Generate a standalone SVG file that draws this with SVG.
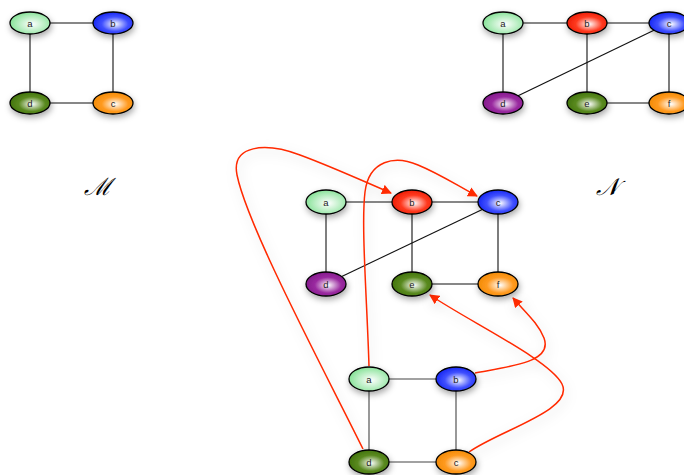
<svg xmlns="http://www.w3.org/2000/svg" width="684" height="475" viewBox="0 0 684 475">
<style>
.n ellipse{stroke:#000;stroke-width:1.3;filter:url(#sh)}
.n text{font-family:"Liberation Sans",Arial,sans-serif;font-size:9.5px;fill:#222;text-anchor:middle;dominant-baseline:central}
.e line{stroke:#111;stroke-width:1.1}
.r path{fill:none;stroke:#ff2a00;stroke-width:1.5;marker-end:url(#ah)}
.lbl{font-family:"DejaVu Serif",serif;font-style:italic;font-size:24px;text-anchor:middle;fill:#000}
</style>
<defs>
<filter id="sh" x="-60%" y="-60%" width="220%" height="220%"><feDropShadow dx="1" dy="3" stdDeviation="3" flood-color="#000" flood-opacity="0.35"/></filter>
<filter id="rs" x="-20%" y="-20%" width="140%" height="140%"><feDropShadow dx="2" dy="4" stdDeviation="6" flood-color="#000" flood-opacity="0.18"/></filter>
<radialGradient id="gA" cx="0.55" cy="0.55" r="0.6"><stop offset="0" stop-color="#ffffff"/><stop offset="1" stop-color="#7ee090"/></radialGradient>
<radialGradient id="gB" cx="0.55" cy="0.55" r="0.6"><stop offset="0" stop-color="#ffffff"/><stop offset="0.55" stop-color="#4050ff"/><stop offset="1" stop-color="#1020f0"/></radialGradient>
<radialGradient id="gR" cx="0.55" cy="0.55" r="0.6"><stop offset="0" stop-color="#ffffff"/><stop offset="0.55" stop-color="#ff3a20"/><stop offset="1" stop-color="#e81800"/></radialGradient>
<radialGradient id="gG" cx="0.55" cy="0.55" r="0.6"><stop offset="0" stop-color="#ffffff"/><stop offset="0.55" stop-color="#5a8a20"/><stop offset="1" stop-color="#3e7008"/></radialGradient>
<radialGradient id="gO" cx="0.55" cy="0.55" r="0.6"><stop offset="0" stop-color="#ffffff"/><stop offset="0.55" stop-color="#ff9a20"/><stop offset="1" stop-color="#f08800"/></radialGradient>
<radialGradient id="gP" cx="0.55" cy="0.55" r="0.6"><stop offset="0" stop-color="#ffffff"/><stop offset="0.55" stop-color="#9a2aa0"/><stop offset="1" stop-color="#801888"/></radialGradient>
<marker id="ah" viewBox="0 0 10 10" refX="9" refY="5" markerWidth="10" markerHeight="10" markerUnits="userSpaceOnUse" orient="auto"><path d="M0,0 L10,5 L0,10 Z" fill="#ff2a00"/></marker>
</defs>
<rect width="684" height="475" fill="#fff"/>

<g id="connectors">
<g class="e">
<line x1="30" y1="23" x2="113" y2="23"/><line x1="113" y1="23" x2="113" y2="103"/><line x1="113" y1="103" x2="30" y2="103"/><line x1="30" y1="103" x2="30" y2="23"/>
<line x1="503" y1="23" x2="587" y2="23"/><line x1="587" y1="23" x2="669" y2="23"/><line x1="503" y1="23" x2="503" y2="103"/><line x1="587" y1="23" x2="587" y2="103"/><line x1="669" y1="23" x2="669" y2="103"/><line x1="587" y1="103" x2="669" y2="103"/><line x1="669" y1="23" x2="503" y2="103"/>
<line x1="326" y1="202" x2="412" y2="202"/><line x1="412" y1="202" x2="498" y2="202"/><line x1="326" y1="202" x2="326" y2="284" style="stroke:#555;stroke-width:1.5"/><line x1="412" y1="202" x2="412" y2="284"/><line x1="498" y1="202" x2="498" y2="284"/><line x1="412" y1="284" x2="498" y2="284"/><line x1="498" y1="202" x2="326" y2="284"/>
<line x1="369" y1="379" x2="456" y2="379" style="stroke:#444"/><line x1="456" y1="379" x2="456" y2="462" style="stroke:#444"/><line x1="456" y1="462" x2="369" y2="462" style="stroke:#444"/><line x1="369" y1="462" x2="369" y2="379" style="stroke:#444"/>
</g>
<g class="r" filter="url(#rs)">
<path d="M363,449 C325,372 248,228 237,175 C231,145 265,142 300,155 C335,168 365,182 391,193"/>
<path d="M369,366 C367,300 361,225 365,192 C369,160 395,155 418,165 C440,174 458,186 477,196"/>
<path d="M475,373 C512,366 553,362 544,338 C538,323 526,313 513,298"/>
<path d="M469,452 C500,430 575,410 562,384 C550,360 470,322 430,295"/>
</g>
</g>

<g id="M-a" class="n"><ellipse cx="30" cy="23" rx="20" ry="11" fill="url(#gA)"/><text x="30" y="23">a</text></g>
<g id="M-b" class="n"><ellipse cx="113" cy="23" rx="20" ry="11" fill="url(#gB)"/><text x="113" y="23">b</text></g>
<g id="M-c" class="n"><ellipse cx="113" cy="103" rx="20" ry="11" fill="url(#gO)"/><text x="113" y="103">c</text></g>
<g id="M-d" class="n"><ellipse cx="30" cy="103" rx="20" ry="11" fill="url(#gG)"/><text x="30" y="103">d</text></g>

<g id="N-a" class="n"><ellipse cx="503" cy="23" rx="20" ry="11" fill="url(#gA)"/><text x="503" y="23">a</text></g>
<g id="N-b" class="n"><ellipse cx="587" cy="23" rx="20" ry="11" fill="url(#gR)"/><text x="587" y="23">b</text></g>
<g id="N-c" class="n"><ellipse cx="669" cy="23" rx="20" ry="11" fill="url(#gB)"/><text x="669" y="23">c</text></g>
<g id="N-d" class="n"><ellipse cx="503" cy="103" rx="20" ry="11" fill="url(#gP)"/><text x="503" y="103">d</text></g>
<g id="N-e" class="n"><ellipse cx="587" cy="103" rx="20" ry="11" fill="url(#gG)"/><text x="587" y="103">e</text></g>
<g id="N-f" class="n"><ellipse cx="669" cy="103" rx="20" ry="11" fill="url(#gO)"/><text x="669" y="103">f</text></g>

<g id="N2-a" class="n"><ellipse cx="326" cy="202" rx="20" ry="12" fill="url(#gA)"/><text x="326" y="202">a</text></g>
<g id="N2-b" class="n"><ellipse cx="412" cy="202" rx="20" ry="12" fill="url(#gR)"/><text x="412" y="202">b</text></g>
<g id="N2-c" class="n"><ellipse cx="498" cy="202" rx="20" ry="12" fill="url(#gB)"/><text x="498" y="202">c</text></g>
<g id="N2-d" class="n"><ellipse cx="326" cy="284" rx="20" ry="12" fill="url(#gP)"/><text x="326" y="284">d</text></g>
<g id="N2-e" class="n"><ellipse cx="412" cy="284" rx="20" ry="12" fill="url(#gG)"/><text x="412" y="284">e</text></g>
<g id="N2-f" class="n"><ellipse cx="498" cy="284" rx="20" ry="12" fill="url(#gO)"/><text x="498" y="284">f</text></g>

<g id="M2-a" class="n"><ellipse cx="369" cy="379" rx="20" ry="12" fill="url(#gA)"/><text x="369" y="379">a</text></g>
<g id="M2-b" class="n"><ellipse cx="456" cy="379" rx="20" ry="12" fill="url(#gB)"/><text x="456" y="379">b</text></g>
<g id="M2-c" class="n"><ellipse cx="456" cy="462" rx="20" ry="12" fill="url(#gO)"/><text x="456" y="462">c</text></g>
<g id="M2-d" class="n"><ellipse cx="369" cy="462" rx="20" ry="12" fill="url(#gG)"/><text x="369" y="462">d</text></g>

<text class="lbl" x="98" y="195">ℳ</text>
<text class="lbl" x="607" y="195">𝒩</text>
</svg>
